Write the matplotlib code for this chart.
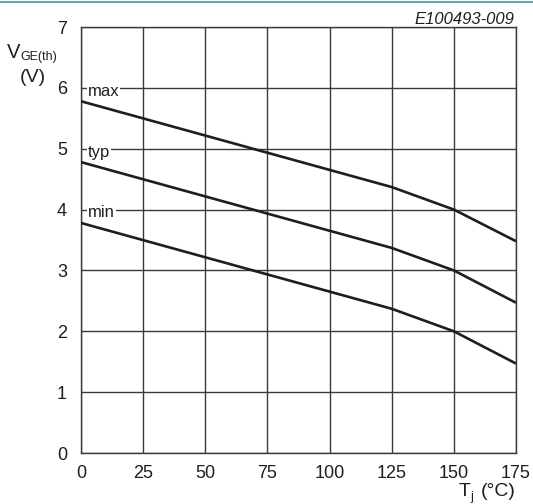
import matplotlib
matplotlib.use("Agg")
import matplotlib.pyplot as plt

# junction temperature vs gate threshold voltage
temps = [0, 125, 150, 175]
v_max = [5.78, 4.37, 4.0, 3.48]
v_typ = [4.78, 3.37, 3.0, 2.47]
v_min = [3.78, 2.37, 2.0, 1.47]

x_ticks = [0, 25, 50, 75, 100, 125, 150, 175]
y_ticks = [0, 1, 2, 3, 4, 5, 6, 7]

curve_labels = ["max", "typ", "min"]
label_y = [6, 5, 4]

plt.rcParams['font.family'] = ['Liberation Sans', 'DejaVu Sans']

W, H = 533, 504
fig = plt.figure(figsize=(W / 100, H / 100), dpi=100)
ax = fig.add_axes([81 / W, 1 - 453 / H, (516 - 81) / W, (453 - 27) / H])

for vals in (v_max, v_typ, v_min):
	ax.plot(temps, vals, color="#1e1e1e", linewidth=1.9, solid_capstyle="butt", zorder=3)

ax.set_xlim(0, 175)
ax.set_ylim(0, 7)
ax.set_xticks(x_ticks)
ax.set_yticks(y_ticks)
ax.grid(True, color="#3a3a3a", linewidth=1.0)
ax.set_axisbelow(True)
ax.tick_params(length=0, labelsize=13, colors="#1e1e1e")
ax.tick_params(axis="x", pad=9)
ax.tick_params(axis="y", pad=10)
for s in ax.spines.values():
	s.set_color("#3a3a3a")
	s.set_linewidth(1.0)

# curve labels sit just under their grid line
for lab, yv in zip(curve_labels, label_y):
	ax.text(2.8, yv - 0.13, lab, fontsize=12, va="baseline", ha="left", color="#1e1e1e",
			bbox=dict(facecolor="white", edgecolor="none", pad=0.5), zorder=4)

def px(x, y):
	return x / W, 1 - y / H

fig.text(*px(514, 24), "E100493-009", fontsize=12, style="italic",
		 ha="right", va="baseline", color="#1e1e1e")

# y axis label
fig.text(*px(7, 58), "V", fontsize=14.5, ha="left", va="baseline", color="#1e1e1e")
fig.text(*px(20, 60), "GE(th)", fontsize=9, ha="left", va="baseline", color="#1e1e1e")
fig.text(*px(33, 78), "(V)", fontsize=14, ha="center", va="center", color="#1e1e1e")

# x axis label
fig.text(*px(459, 496), "T", fontsize=14, ha="left", va="baseline", color="#1e1e1e")
fig.text(*px(470, 500), "j", fontsize=9, ha="left", va="baseline", color="#1e1e1e")
fig.text(*px(481, 496), "(°C)", fontsize=14, ha="left", va="baseline", color="#1e1e1e")

fig.add_artist(plt.Line2D([0, 1], [1 - 1.5 / H, 1 - 1.5 / H], color="#3f93b4",
						  linewidth=1.2, transform=fig.transFigure))

fig.savefig("out.png", dpi=100)
